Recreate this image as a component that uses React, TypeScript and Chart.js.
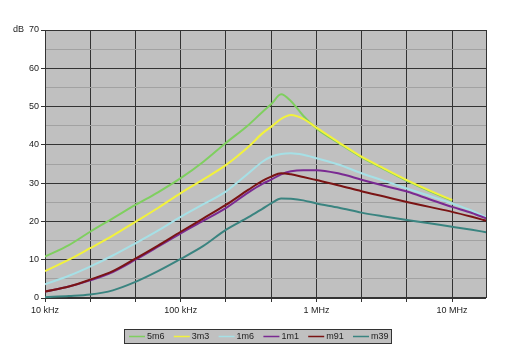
import React, { useEffect, useRef } from "react";
import { Chart, registerables } from "chart.js";

Chart.register(...registerables);

// Frequencies in Hz
const freqs = [10e3, 15e3, 21.5e3, 31.6e3, 46.4e3, 68e3, 100e3, 147e3, 215e3, 316e3, 400e3, 464e3, 550e3, 650e3, 800e3, 1e6, 1.47e6, 2.15e6, 3.16e6, 4.64e6, 6.8e6, 10e6, 14e6, 17.8e6];

const s5m6 = [10.8, 13.8, 17.3, 20.8, 24.3, 27.6, 31.3, 35.6, 40.5, 45.2, 48.6, 50.6, 53.2, 51.4, 47.6, 44.3, 40.4, 36.7, 33.6, 30.6, 27.9, 25.4, null, null];
const s3m3 = [7.0, 10.0, 13.0, 16.3, 19.9, 23.5, 27.4, 31.0, 34.7, 39.5, 43.0, 44.7, 46.8, 47.8, 46.8, 44.5, 40.6, 36.9, 33.8, 30.8, 28.1, 25.6, null, null];
const s1m6 = [3.6, 5.8, 8.2, 11.1, 14.3, 17.6, 21.2, 24.5, 27.8, 32.6, 35.6, 36.9, 37.6, 37.8, 37.4, 36.5, 34.8, 32.6, 30.6, 28.6, 26.7, 24.7, 22.8, 21.1];
const s1m1 = [1.7, 3.0, 4.6, 6.8, 10.0, 13.4, 16.9, 20.2, 23.5, 27.6, 29.8, 30.9, 32.3, 33.1, 33.4, 33.4, 32.5, 30.9, 29.3, 27.8, 25.8, 23.8, 22.2, 20.8];
const sm91 = [1.7, 3.0, 4.8, 7.0, 10.3, 13.7, 17.3, 20.8, 24.3, 28.3, 30.6, 31.7, 32.6, 32.3, 31.6, 30.8, 29.4, 27.9, 26.5, 25.1, 23.8, 22.5, 21.2, 20.2];
const sm39 = [0.2, 0.5, 0.9, 2.0, 4.2, 7.0, 10.2, 13.6, 17.8, 21.1, 23.3, 24.7, 26.0, 25.9, 25.5, 24.7, 23.6, 22.3, 21.3, 20.4, 19.5, 18.6, 17.8, 17.2];

const seriesNames = ["5m6", "3m3", "1m6", "1m1", "m91", "m39"];
const seriesValues = [s5m6, s3m3, s1m6, s1m1, sm91, sm39];
const seriesColors = ["#7fcf5f", "#f2f23c", "#a6e0e6", "#7a2a92", "#7a1414", "#3a8480"];
const seriesOrder = [4, 0, 3, 2, 1, 5];

const xTickLabels = ["10 kHz", "100 kHz", "1 MHz", "10 MHz"];
const xMin = 1e4;
const xMax = Math.pow(10, 7.25);
const yMin = 0;
const yMax = 70;
const yUnit = "dB";

const FONT = "'Liberation Sans', Arial, sans-serif";

const decorPlugin = {
  id: "decor",
  beforeDraw(chart: any) {
    const { ctx, chartArea } = chart;
    ctx.save();
    ctx.fillStyle = "#c0c0c0";
    ctx.fillRect(chartArea.left, chartArea.top, chartArea.right - chartArea.left, chartArea.bottom - chartArea.top);
    ctx.restore();
  },
  beforeDatasetsDraw(chart: any) {
    const { ctx, chartArea } = chart;
    ctx.save();
    ctx.strokeStyle = "#333";
    ctx.lineWidth = 1;
    ctx.strokeRect(Math.round(chartArea.left) + 0.5, Math.round(chartArea.top) + 0.5, Math.round(chartArea.right - chartArea.left), Math.round(chartArea.bottom - chartArea.top) - 1);
    ctx.restore();
  },
  afterDraw(chart: any) {
    const { ctx, chartArea } = chart;
    ctx.save();
    // unit label
    ctx.font = `9px ${FONT}`;
    ctx.fillStyle = "#222";
    ctx.textAlign = "left";
    ctx.textBaseline = "middle";
    ctx.fillText(yUnit, 13, chartArea.top);
    // legend box
    const bx = 124, by = 329, bw = 267, bh = 14;
    ctx.fillStyle = "#c0c0c0";
    ctx.fillRect(bx, by, bw, bh);
    ctx.strokeStyle = "#333";
    ctx.lineWidth = 1;
    ctx.strokeRect(bx + 0.5, by + 0.5, bw, bh);
    const cy = by + bh / 2 + 0.5;
    seriesNames.forEach((name, i) => {
      const x0 = 129 + i * 44.8;
      ctx.strokeStyle = seriesColors[i];
      ctx.lineWidth = 1.5;
      ctx.beginPath();
      ctx.moveTo(x0, cy);
      ctx.lineTo(x0 + 16, cy);
      ctx.stroke();
      ctx.fillStyle = "#222";
      ctx.font = `9px ${FONT}`;
      ctx.textAlign = "left";
      ctx.textBaseline = "middle";
      ctx.fillText(name, x0 + 18, cy);
    });
    ctx.restore();
  },
};

export default function App() {
  const ref = useRef<HTMLCanvasElement>(null);
  useEffect(() => {
    document.body.style.margin = "0";
    const canvas = ref.current;
    if (!canvas) return;
    const datasets = seriesNames.map((name, i) => ({
      label: name,
      data: freqs
        .map((f, j) => ({ x: f, y: seriesValues[i][j] }))
        .filter((p) => p.y !== null),
      borderColor: seriesColors[i],
      backgroundColor: seriesColors[i],
      borderWidth: 2,
      pointRadius: 0,
      fill: false,
      cubicInterpolationMode: "monotone" as const,
      order: seriesOrder[i],
    }));
    const chart = new Chart(canvas, {
      type: "line",
      data: { datasets },
      options: {
        animation: false,
        responsive: false,
        maintainAspectRatio: false,
        layout: { padding: { left: 0, right: 34, top: 30, bottom: 27 } },
        plugins: {
          legend: { display: false },
          tooltip: { enabled: false },
        },
        scales: {
          x: {
            type: "logarithmic",
            min: xMin,
            max: xMax,
            afterBuildTicks: (scale: any) => {
              const t = [];
              for (let k = 0; k <= 9; k++) t.push({ value: Math.pow(10, 4 + k / 3) });
              scale.ticks = t;
            },
            afterFit: (scale: any) => {
              scale.height = 30;
            },
            border: { display: false },
            grid: { color: "#333", tickColor: "#333", tickLength: 4, lineWidth: 1 },
            ticks: {
              autoSkip: false,
              maxRotation: 0,
              minRotation: 0,
              padding: 3,
              color: "#222",
              font: { family: FONT, size: 9 },
              callback: (_v: any, index: number) => (index % 3 === 0 ? xTickLabels[index / 3] : ""),
            },
          },
          y: {
            type: "linear",
            min: yMin,
            max: yMax,
            afterFit: (scale: any) => {
              scale.width = 45;
            },
            border: { display: false },
            grid: {
              color: (c: any) => (c.tick && c.tick.value % 10 === 0 ? "#333" : "#a2a2a2"),
              tickColor: (c: any) => (c.tick && c.tick.value % 10 === 0 ? "#333" : "rgba(0,0,0,0)"),
              tickLength: 4,
              lineWidth: 1,
            },
            ticks: {
              stepSize: 5,
              padding: 2,
              color: "#222",
              font: { family: FONT, size: 9 },
              callback: (v: any) => (Number(v) % 10 === 0 ? String(v) : ""),
            },
          },
        },
      },
      plugins: [decorPlugin],
    });
    return () => chart.destroy();
  }, []);
  return (
    <div style={{ width: 520, height: 355 }}>
      <canvas ref={ref} width={520} height={355} />
    </div>
  );
}
